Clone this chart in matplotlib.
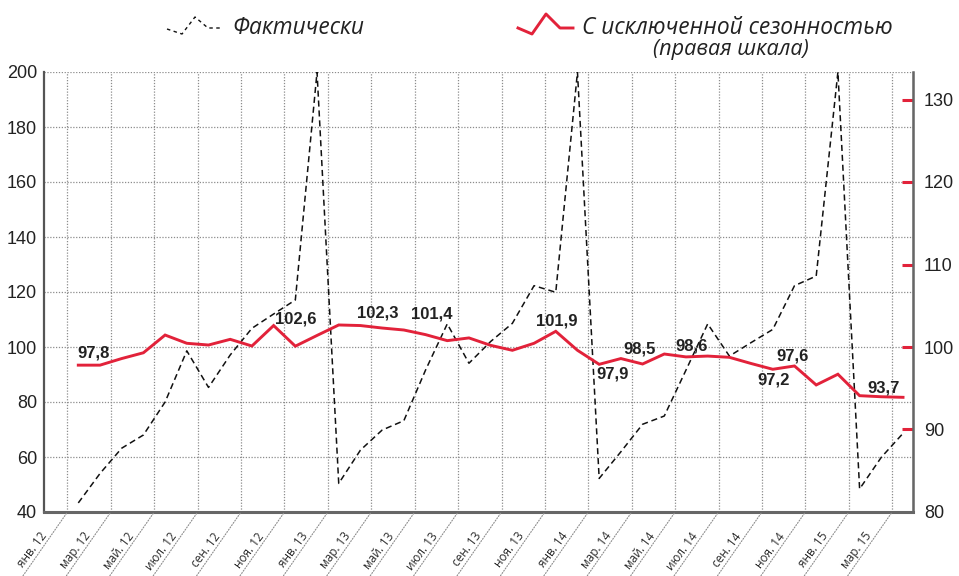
import matplotlib
matplotlib.use("Agg")
import matplotlib.pyplot as plt
from matplotlib.lines import Line2D

W, H = 959, 576

# Monthly series, Jan 2012 .. Mar 2015
actual = [43.3, 54, 63.2, 68, 80, 98.6, 85.3, 97.1, 106.8, 112, 117.1, 200,
          50.4, 62.5, 69.8, 73.2, 91.6, 108.4, 94.1, 102, 108.6, 122.3, 119.9, 200,
          52.2, 61.9, 71.9, 74.9, 91.6, 108.4, 96.7, 101.6, 106.4, 122.3, 125.8, 200,
          48.4, 59.9, 68.6]
seasonal = [97.8, 97.8, 98.6, 99.3, 101.45, 100.45, 100.24, 100.93, 100.12, 102.6, 100.1, 101.4,
            102.67, 102.6, 102.3, 102.06, 101.5, 100.77, 101.1, 100.2, 99.6, 100.45, 101.9, 99.6,
            97.9, 98.6, 97.94, 99.15, 98.8, 98.9, 98.75, 98.0, 97.3, 97.7, 95.4, 96.7,
            94.1, 93.97, 93.9]
month_names = ["янв.", "мар.", "май.", "июл.", "сен.", "ноя."]
left_ticks = [40, 60, 80, 100, 120, 140, 160, 180, 200]
right_ticks = [80, 90, 100, 110, 120, 130]

# value labels: (month index, text, offset in px from the point)
value_labels = [(0, "97,8", (15, 12)), (9, "102,6", (22, 7)), (14, "102,3", (-4, 15)),
                (16, "101,4", (6, 21)), (22, "101,9", (1, 10)), (24, "97,9", (13, -10)),
                (26, "98,5", (-3, 15)), (28, "98,6", (6, 11)), (32, "97,2", (1, -11)),
                (33, "97,6", (-2, 10)), (38, "93,7", (-19, 9))]

RED = "#e2223a"
GRID = "#8c8c8c"
TXT = "#222222"

fig = plt.figure(figsize=(W / 100, H / 100), dpi=100)
ax = fig.add_axes([44 / W, 64 / H, 869 / W, 440 / H])
ax2 = ax.twinx()

x = [i + 0.5 for i in range(len(actual))]

ax.plot(x, actual, color="#111111", lw=1.1, dashes=(4, 2.5), zorder=3)
ax2.plot(x, seasonal, color=RED, lw=2.1, zorder=4, solid_joinstyle="miter")

ax.set_xlim(-1.08, 38.96)
ax.set_ylim(40, 200)
ax2.set_ylim(80, 80 + 160 / 3)

# grid
ax.set_yticks(left_ticks)
ax.set_xticks(range(0, 39, 2))
ax.grid(True, color=GRID, lw=0.9, linestyle=(0, (1, 1.3)))
ax.set_axisbelow(True)
ax.tick_params(axis="x", length=0, labelbottom=False)
ax.tick_params(axis="y", length=0, pad=5, labelsize=13, labelcolor=TXT)
for lab in ax.get_yticklabels():
    lab.set_fontfamily("Liberation Sans")

ax2.set_yticks(right_ticks)
ax2.tick_params(axis="y", direction="in", length=8, width=2.2, color=RED,
                pad=8, labelsize=13, labelcolor=TXT)
ax2.yaxis.get_major_ticks()[0].tick2line.set_visible(False)
for lab in ax2.get_yticklabels():
    lab.set_fontfamily("Liberation Sans")

for a in (ax, ax2):
    a.spines["top"].set_visible(False)
ax.spines["left"].set_color("#555555")
ax.spines["left"].set_linewidth(1.6)
ax.spines["bottom"].set_color("#666666")
ax.spines["bottom"].set_linewidth(2.2)
ax2.spines["right"].set_color("#666666")
ax2.spines["right"].set_linewidth(1.8)
ax2.spines["left"].set_visible(False)
ax2.spines["bottom"].set_visible(False)

# slanted month labels sitting on dotted leaders
for m in range(0, 39, 2):
    lab = f"{month_names[(m % 12) // 2]} {12 + m // 12}"
    ax.annotate("", xy=(m, 0), xycoords=("data", "axes fraction"),
                xytext=(-46, -66), textcoords="offset pixels",
                arrowprops=dict(arrowstyle="-", linestyle=(0, (1, 1.5)), color=GRID,
                                lw=0.8, shrinkA=0, shrinkB=0), annotation_clip=False)
    ax.annotate(lab, xy=(m, 0), xycoords=("data", "axes fraction"),
                xytext=(-20, -24), textcoords="offset pixels",
                rotation=53, rotation_mode="anchor", ha="right", va="baseline",
                fontsize=8.5, color="#2a2a2a", family="Open Sans", annotation_clip=False)

# value labels on the seasonally adjusted line
for i, txt, off in value_labels:
    ax2.annotate(txt, xy=(x[i], seasonal[i]), xytext=off, textcoords="offset pixels",
                 ha="center", va="center", fontsize=12, fontweight="bold",
                 family="Liberation Sans", color=TXT, zorder=6)

# legend
def fig_line(xs, ys, **kw):
    fig.add_artist(Line2D([v / W for v in xs], [1 - v / H for v in ys],
                          transform=fig.transFigure, **kw))

fig_line([167, 182, 195, 208, 222], [29, 34, 17, 28, 28], color="#111111", lw=1.0, dashes=(2.5, 2.5))
fig_line([518, 532, 546, 560, 573], [28, 34, 14, 28, 28], color=RED, lw=2.1)
fig.text(232 / W, 1 - 28 / H, "Фактически", fontsize=16.4, style="italic",
         family="Open Sans", color=TXT, va="center", ha="left")
fig.text(582 / W, 1 - 28 / H, "С исключенной сезонностью", fontsize=16.4, style="italic",
         family="Open Sans", color=TXT, va="center", ha="left")
fig.text(731 / W, 1 - 49 / H, "(правая шкала)", fontsize=15.6, style="italic",
         family="Open Sans", color=TXT, va="center", ha="center")

fig.savefig("out.png", dpi=100)
